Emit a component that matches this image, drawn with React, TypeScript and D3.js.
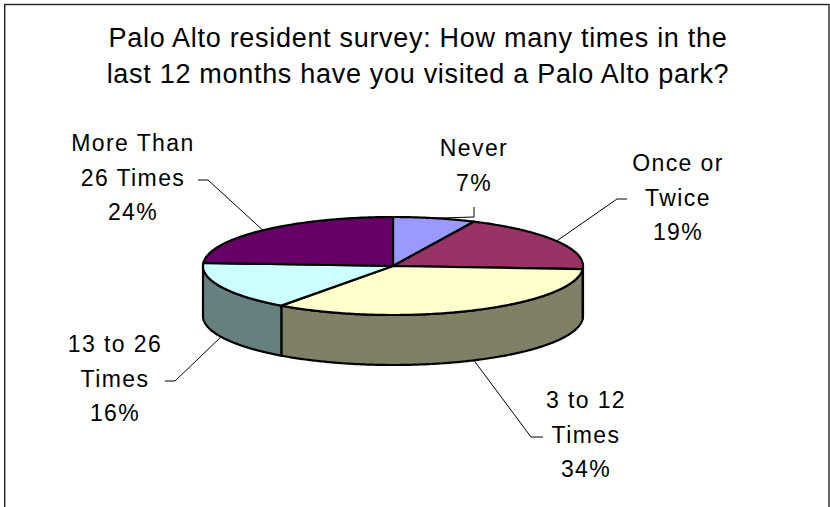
import React from "react";
import * as d3 from "d3";

const titleLines = [
  "Palo Alto resident survey: How many times in the",
  "last 12 months have you visited a Palo Alto park?",
];
const categories = ["Never", "Once or Twice", "3 to 12 Times", "13 to 26 Times", "More Than 26 Times"];
const labelLines = [["Never"], ["Once or", "Twice"], ["3 to 12", "Times"], ["13 to 26", "Times"], ["More Than", "26 Times"]];
const values = [7, 19, 34, 16, 24];
const topColors = ["#9999FF", "#993366", "#FFFFCC", "#CCFFFF", "#660066"];

// layout (positions only)
const labelLayout = [
  { x: 474, y: 156, leader: [[474, 207], [474, 217]] },
  { x: 678, y: 171, leader: [[627, 199], [617, 199]] },
  { x: 586, y: 408, leader: [[543, 437], [531, 437]] },
  { x: 115, y: 352, leader: [[165, 381], [175, 381]] },
  { x: 133, y: 151, leader: [[198, 180], [208, 180]] },
];

const W = 830, H = 507;
const cx = 393, cy = 266, rx = 190, ry = 49, depth = 50;
const FONT = "'Liberation Sans', Arial, Helvetica, sans-serif";

function halfColor(c: string) {
  const r = d3.rgb(c);
  return d3.rgb(r.r / 2, r.g / 2, r.b / 2).formatHex();
}

export default function App() {
  const pie = d3.pie<number>().sort(null).startAngle(0).endAngle(2 * Math.PI);
  const arcs = pie(values);
  const pt = (a: number, dy = 0): [number, number] => [cx + rx * Math.sin(a), cy - ry * Math.cos(a) + dy];
  const arcPts = (a0: number, a1: number, dy = 0) => {
    const n = Math.max(2, Math.ceil((a1 - a0) / 0.01));
    return d3.range(n + 1).map((i) => pt(a0 + ((a1 - a0) * i) / n, dy));
  };
  const line = d3.line<[number, number]>();

  const sides = arcs
    .map((a, i) => {
      const s0 = Math.max(a.startAngle, Math.PI / 2);
      const s1 = Math.min(a.endAngle, (3 * Math.PI) / 2);
      if (s1 <= s0) return null;
      const pts = [...arcPts(s0, s1), ...arcPts(s0, s1, depth).reverse()];
      return { d: line(pts) + "Z", fill: halfColor(topColors[i]), key: i };
    })
    .filter(Boolean) as { d: string; fill: string; key: number }[];

  const tops = arcs.map((a, i) => {
    const pts: [number, number][] = [[cx, cy], ...arcPts(a.startAngle, a.endAngle)];
    return { d: line(pts) + "Z", fill: topColors[i], key: i };
  });

  const leaders = arcs.map((a, i) => {
    const mid = (a.startAngle + a.endAngle) / 2;
    const front = Math.cos(mid) < 0;
    const end = pt(mid, front ? depth : 0);
    return line([...(labelLayout[i].leader as [number, number][]), end]) as string;
  });

  return (
    <svg
      width={W}
      height={H}
      style={{ position: "absolute", left: 0, top: 0, background: "#fff" }}
      fontFamily={FONT}
    >
      <rect x={0} y={0} width={W} height={H} fill="#fff" />
      <rect x={4.7} y={4.5} width={824.3} height={H + 20} fill="#fff" stroke="#222" strokeWidth={1.4} />
      {titleLines.map((t, i) => (
        <text key={i} x={418} y={47 + i * 36} textAnchor="middle" fontSize={27} letterSpacing={0.7} fill="#000">
          {t}
        </text>
      ))}
      <g stroke="#000" strokeWidth={2.2} strokeLinejoin="round">
        {sides.map((s) => (
          <path key={"s" + s.key} d={s.d} fill={s.fill} />
        ))}
        {tops.map((s) => (
          <path key={"t" + s.key} d={s.d} fill={s.fill} />
        ))}
      </g>
      <g stroke="#000" strokeWidth={1} fill="none">
        {leaders.map((d, i) => (
          <path key={i} d={d} />
        ))}
      </g>
      {categories.map((c, i) => {
        const lines = [...labelLines[i], `${values[i]}%`];
        return (
          <text key={c} textAnchor="middle" fontSize={23} letterSpacing={1.4} fill="#000">
            {lines.map((l, j) => (
              <tspan key={j} x={labelLayout[i].x} y={labelLayout[i].y + j * 34.7}>
                {l}
              </tspan>
            ))}
          </text>
        );
      })}
    </svg>
  );
}
